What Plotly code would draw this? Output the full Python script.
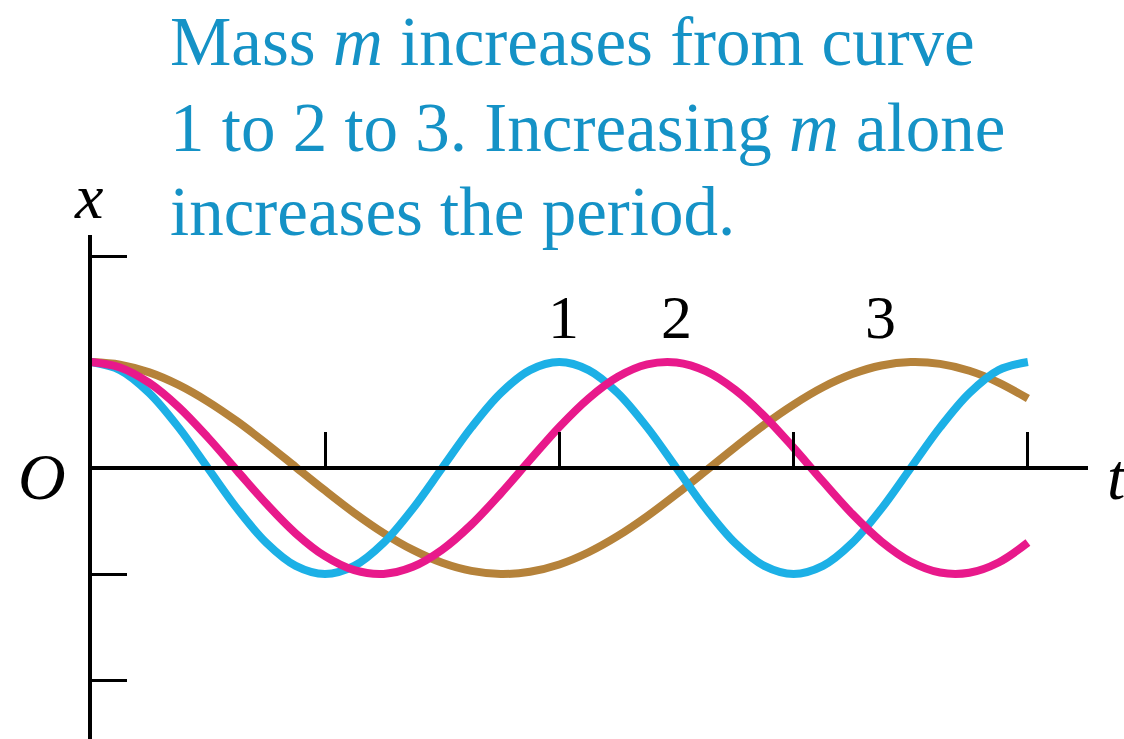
import plotly.graph_objects as go

# Time samples (in units of the t-axis tick spacing), every 1/8 unit
t_values = [i / 8 for i in range(33)]

# Displacement x for each curve (amplitude = 1 tick unit)
curve1_x = [1.000, 0.924, 0.707, 0.383, 0.000, -0.383, -0.707, -0.924, -1.000,
            -0.924, -0.707, -0.383, 0.000, 0.383, 0.707, 0.924, 1.000,
            0.924, 0.707, 0.383, 0.000, -0.383, -0.707, -0.924, -1.000,
            -0.924, -0.707, -0.383, 0.000, 0.383, 0.707, 0.924, 1.000]
curve2_x = [1.000, 0.949, 0.803, 0.576, 0.289, -0.026, -0.338, -0.617, -0.832,
            -0.964, -0.999, -0.932, -0.771, -0.533, -0.240, 0.076, 0.387,
            0.656, 0.860, 0.977, 0.995, 0.913, 0.738, 0.490, 0.191,
            -0.127, -0.433, -0.694, -0.884, -0.986, -0.988, -0.891, -0.703]
curve3_x = [1.000, 0.975, 0.902, 0.784, 0.627, 0.440, 0.230, 0.009, -0.212,
            -0.424, -0.614, -0.773, -0.894, -0.971, -1.000, -0.979, -0.910,
            -0.795, -0.641, -0.455, -0.247, -0.027, 0.195, 0.408, 0.599,
            0.762, 0.886, 0.967, 0.999, 0.982, 0.917, 0.806, 0.655]

curve_names = ["1", "2", "3"]
curve_colors = ["#1cb0e6", "#e8198b", "#b5823a"]
label_t = [2.02, 2.5, 3.37]
label_x = [1.42, 1.42, 1.42]

t_ticks = [1, 2, 3, 4]
x_ticks = [2, -1, -2]

W, H = 1124, 739
ORIGIN_PX = (90.7, 468)   # pixel position of the origin O
T_UNIT = 234.3            # pixels per t unit
X_UNIT = 106              # pixels per x unit
AX_LEFT, AX_RIGHT, AX_TOP = 92, 1088, 235

fig = go.Figure()

series = [curve3_x, curve1_x, curve2_x]
order = [2, 0, 1]
for idx, ys in zip(order, series):
    fig.add_trace(go.Scatter(
        x=t_values, y=ys, mode="lines", name=curve_names[idx],
        line=dict(color=curve_colors[idx], width=8, shape="spline", smoothing=1.0),
        hoverinfo="skip", showlegend=False,
    ))

# Curve number labels
for name, lt, lx in zip(curve_names, label_t, label_x):
    fig.add_annotation(x=lt, y=lx, xref="x", yref="y", text=name, showarrow=False,
                       font=dict(family="Liberation Serif", size=62, color="black"),
                       xanchor="center", yanchor="middle")

x_range = [(AX_LEFT - ORIGIN_PX[0]) / T_UNIT, (AX_RIGHT - ORIGIN_PX[0]) / T_UNIT]
y_range = [(ORIGIN_PX[1] - H) / X_UNIT, (ORIGIN_PX[1] - AX_TOP) / X_UNIT]

fig.update_layout(
    width=W, height=H,
    margin=dict(l=0, r=0, t=0, b=0),
    paper_bgcolor="white", plot_bgcolor="white",
    xaxis=dict(domain=[AX_LEFT / W, AX_RIGHT / W], range=x_range,
               anchor="free", position=1 - ORIGIN_PX[1] / H,
               showgrid=False, zeroline=False, showline=True,
               linecolor="black", linewidth=4,
               ticks="inside", ticklen=34, tickwidth=3, tickcolor="black",
               tickvals=t_ticks, showticklabels=False, fixedrange=True),
    yaxis=dict(domain=[0, 1 - AX_TOP / H], range=y_range, anchor="x",
               showgrid=False, zeroline=False, showline=True,
               linecolor="black", linewidth=4,
               ticks="inside", ticklen=35, tickwidth=3, tickcolor="black",
               tickvals=x_ticks, showticklabels=False, fixedrange=True),
)

# Caption text
title_color = "#1592c6"
caption = [
    "Mass <i>m</i> increases from curve",
    "1 to 2 to 3. Increasing <i>m</i> alone",
    "increases the period.",
]
caption_y = [42, 128, 212]
for line, py in zip(caption, caption_y):
    fig.add_annotation(x=168 / W, y=1 - py / H, xref="paper", yref="paper",
                       text=line, showarrow=False, xanchor="left", yanchor="middle",
                       font=dict(family="Liberation Serif", size=69, color=title_color))

# Axis letters
axis_labels = [("<i>x</i>", 88, 196, 64), ("<i>O</i>", 42, 476, 66), ("<i>t</i>", 1117, 476, 66)]
for txt, px, py, sz in axis_labels:
    fig.add_annotation(x=px / W, y=1 - py / H, xref="paper", yref="paper",
                       text=txt, showarrow=False, xanchor="center", yanchor="middle",
                       font=dict(family="Liberation Serif", size=sz, color="black"))

fig.write_html("out.html")
